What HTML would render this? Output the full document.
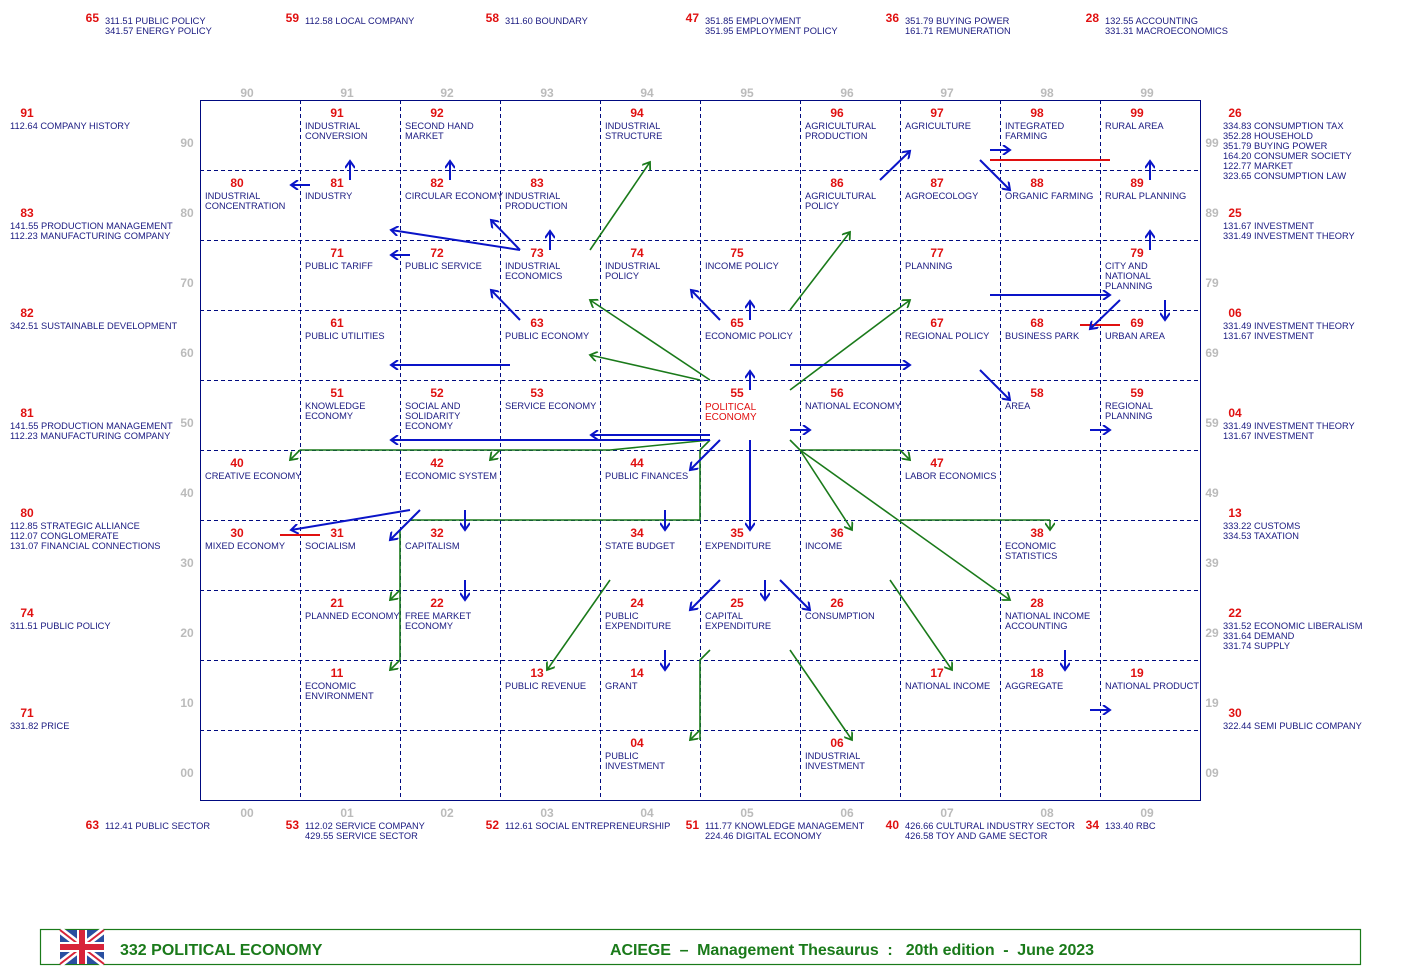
<!DOCTYPE html>
<html><head><meta charset="utf-8"><style>
html,body{margin:0;padding:0;background:#fff}
svg{display:block;font-family:"Liberation Sans",Arial,sans-serif}
.n{fill:#e01010;font-size:12px;font-weight:bold;text-anchor:middle}
.t{fill:#1a1a80;font-size:9.3px}
.a{fill:#bbb;font-size:12px;font-weight:bold;text-anchor:middle}
.on{fill:#e01010;font-size:12px;font-weight:bold;text-anchor:end}
.b{stroke:#0a14c8;stroke-width:2;fill:none}
.g{stroke:#1a7a1a;stroke-width:1.6;fill:none}
.r{stroke:#e01010;stroke-width:2}
</style></head><body>
<svg width="1410" height="980" viewBox="0 0 1410 980">
<defs>
<marker id="mb" markerWidth="10" markerHeight="10" refX="8" refY="5" orient="auto" markerUnits="userSpaceOnUse"><path d="M1,0 L8,5 L1,10" fill="none" stroke="#0a14c8" stroke-width="2"/></marker>
<marker id="mg" markerWidth="10" markerHeight="10" refX="8" refY="5" orient="auto" markerUnits="userSpaceOnUse"><path d="M1,0 L8,5 L1,10" fill="none" stroke="#1a7a1a" stroke-width="1.8"/></marker>
</defs>
<!-- grid -->
<g stroke="#000a80" stroke-width="1" stroke-dasharray="4,3">
<line x1="300.5" y1="100" x2="300.5" y2="800"/><line x1="400.5" y1="100" x2="400.5" y2="800"/><line x1="500.5" y1="100" x2="500.5" y2="800"/><line x1="600.5" y1="100" x2="600.5" y2="800"/><line x1="700.5" y1="100" x2="700.5" y2="800"/><line x1="800.5" y1="100" x2="800.5" y2="800"/><line x1="900.5" y1="100" x2="900.5" y2="800"/><line x1="1000.5" y1="100" x2="1000.5" y2="800"/><line x1="1100.5" y1="100" x2="1100.5" y2="800"/>
<line x1="200" y1="170.5" x2="1200" y2="170.5"/><line x1="200" y1="240.5" x2="1200" y2="240.5"/><line x1="200" y1="310.5" x2="1200" y2="310.5"/><line x1="200" y1="380.5" x2="1200" y2="380.5"/><line x1="200" y1="450.5" x2="1200" y2="450.5"/><line x1="200" y1="520.5" x2="1200" y2="520.5"/><line x1="200" y1="590.5" x2="1200" y2="590.5"/><line x1="200" y1="660.5" x2="1200" y2="660.5"/><line x1="200" y1="730.5" x2="1200" y2="730.5"/>
</g>
<rect x="200.5" y="100.5" width="1000" height="700" fill="none" stroke="#000a80" stroke-width="1"/>
<!-- axis labels -->
<g class="a">
<text x="247" y="97">90</text><text x="347" y="97">91</text><text x="447" y="97">92</text><text x="547" y="97">93</text><text x="647" y="97">94</text><text x="747" y="97">95</text><text x="847" y="97">96</text><text x="947" y="97">97</text><text x="1047" y="97">98</text><text x="1147" y="97">99</text>
<text x="247" y="817">00</text><text x="347" y="817">01</text><text x="447" y="817">02</text><text x="547" y="817">03</text><text x="647" y="817">04</text><text x="747" y="817">05</text><text x="847" y="817">06</text><text x="947" y="817">07</text><text x="1047" y="817">08</text><text x="1147" y="817">09</text>
<text x="187" y="147">90</text><text x="187" y="217">80</text><text x="187" y="287">70</text><text x="187" y="357">60</text><text x="187" y="427">50</text><text x="187" y="497">40</text><text x="187" y="567">30</text><text x="187" y="637">20</text><text x="187" y="707">10</text><text x="187" y="777">00</text>
<text x="1212" y="147">99</text><text x="1212" y="217">89</text><text x="1212" y="287">79</text><text x="1212" y="357">69</text><text x="1212" y="427">59</text><text x="1212" y="497">49</text><text x="1212" y="567">39</text><text x="1212" y="637">29</text><text x="1212" y="707">19</text><text x="1212" y="777">09</text>
</g>
<!-- top outside -->
<text class="on" x="99" y="22">65</text><text class="t" x="105" y="24">311.51 PUBLIC POLICY</text><text class="t" x="105" y="34">341.57 ENERGY POLICY</text>
<text class="on" x="299" y="22">59</text><text class="t" x="305" y="24">112.58 LOCAL COMPANY</text>
<text class="on" x="499" y="22">58</text><text class="t" x="505" y="24">311.60 BOUNDARY</text>
<text class="on" x="699" y="22">47</text><text class="t" x="705" y="24">351.85 EMPLOYMENT</text><text class="t" x="705" y="34">351.95 EMPLOYMENT POLICY</text>
<text class="on" x="899" y="22">36</text><text class="t" x="905" y="24">351.79 BUYING POWER</text><text class="t" x="905" y="34">161.71 REMUNERATION</text>
<text class="on" x="1099" y="22">28</text><text class="t" x="1105" y="24">132.55 ACCOUNTING</text><text class="t" x="1105" y="34">331.31 MACROECONOMICS</text>
<!-- bottom outside -->
<text class="on" x="99" y="829">63</text><text class="t" x="105" y="829">112.41 PUBLIC SECTOR</text>
<text class="on" x="299" y="829">53</text><text class="t" x="305" y="829">112.02 SERVICE COMPANY</text><text class="t" x="305" y="839">429.55 SERVICE SECTOR</text>
<text class="on" x="499" y="829">52</text><text class="t" x="505" y="829">112.61 SOCIAL ENTREPRENEURSHIP</text>
<text class="on" x="699" y="829">51</text><text class="t" x="705" y="829">111.77 KNOWLEDGE MANAGEMENT</text><text class="t" x="705" y="839">224.46 DIGITAL ECONOMY</text>
<text class="on" x="899" y="829">40</text><text class="t" x="905" y="829">426.66 CULTURAL INDUSTRY SECTOR</text><text class="t" x="905" y="839">426.58 TOY AND GAME SECTOR</text>
<text class="on" x="1099" y="829">34</text><text class="t" x="1105" y="829">133.40 RBC</text>
<!-- left outside -->
<g>
<text class="n" x="27" y="117">91</text><text class="t" x="10" y="129">112.64 COMPANY HISTORY</text>
<text class="n" x="27" y="217">83</text><text class="t" x="10" y="229">141.55 PRODUCTION MANAGEMENT</text><text class="t" x="10" y="239">112.23 MANUFACTURING COMPANY</text>
<text class="n" x="27" y="317">82</text><text class="t" x="10" y="329">342.51 SUSTAINABLE DEVELOPMENT</text>
<text class="n" x="27" y="417">81</text><text class="t" x="10" y="429">141.55 PRODUCTION MANAGEMENT</text><text class="t" x="10" y="439">112.23 MANUFACTURING COMPANY</text>
<text class="n" x="27" y="517">80</text><text class="t" x="10" y="529">112.85 STRATEGIC ALLIANCE</text><text class="t" x="10" y="539">112.07 CONGLOMERATE</text><text class="t" x="10" y="549">131.07 FINANCIAL CONNECTIONS</text>
<text class="n" x="27" y="617">74</text><text class="t" x="10" y="629">311.51 PUBLIC POLICY</text>
<text class="n" x="27" y="717">71</text><text class="t" x="10" y="729">331.82 PRICE</text>
</g>
<!-- right outside -->
<g>
<text class="n" x="1235" y="117">26</text><text class="t" x="1223" y="129">334.83 CONSUMPTION  TAX</text><text class="t" x="1223" y="139">352.28 HOUSEHOLD</text><text class="t" x="1223" y="149">351.79 BUYING POWER</text><text class="t" x="1223" y="159">164.20 CONSUMER SOCIETY</text><text class="t" x="1223" y="169">122.77 MARKET</text><text class="t" x="1223" y="179">323.65 CONSUMPTION LAW</text>
<text class="n" x="1235" y="217">25</text><text class="t" x="1223" y="229">131.67 INVESTMENT</text><text class="t" x="1223" y="239">331.49 INVESTMENT THEORY</text>
<text class="n" x="1235" y="317">06</text><text class="t" x="1223" y="329">331.49 INVESTMENT THEORY</text><text class="t" x="1223" y="339">131.67 INVESTMENT</text>
<text class="n" x="1235" y="417">04</text><text class="t" x="1223" y="429">331.49 INVESTMENT THEORY</text><text class="t" x="1223" y="439">131.67 INVESTMENT</text>
<text class="n" x="1235" y="517">13</text><text class="t" x="1223" y="529">333.22 CUSTOMS</text><text class="t" x="1223" y="539">334.53 TAXATION</text>
<text class="n" x="1235" y="617">22</text><text class="t" x="1223" y="629">331.52 ECONOMIC LIBERALISM</text><text class="t" x="1223" y="639">331.64 DEMAND</text><text class="t" x="1223" y="649">331.74 SUPPLY</text>
<text class="n" x="1235" y="717">30</text><text class="t" x="1223" y="729">322.44 SEMI PUBLIC COMPANY</text>
</g>
<!-- cells -->
<g>
<text class="n" x="337" y="117">91</text><text class="t" x="305" y="129">INDUSTRIAL</text><text class="t" x="305" y="139">CONVERSION</text>
<text class="n" x="437" y="117">92</text><text class="t" x="405" y="129">SECOND HAND</text><text class="t" x="405" y="139">MARKET</text>
<text class="n" x="637" y="117">94</text><text class="t" x="605" y="129">INDUSTRIAL</text><text class="t" x="605" y="139">STRUCTURE</text>
<text class="n" x="837" y="117">96</text><text class="t" x="805" y="129">AGRICULTURAL</text><text class="t" x="805" y="139">PRODUCTION</text>
<text class="n" x="937" y="117">97</text><text class="t" x="905" y="129">AGRICULTURE</text>
<text class="n" x="1037" y="117">98</text><text class="t" x="1005" y="129">INTEGRATED</text><text class="t" x="1005" y="139">FARMING</text>
<text class="n" x="1137" y="117">99</text><text class="t" x="1105" y="129">RURAL AREA</text>

<text class="n" x="237" y="187">80</text><text class="t" x="205" y="199">INDUSTRIAL</text><text class="t" x="205" y="209">CONCENTRATION</text>
<text class="n" x="337" y="187">81</text><text class="t" x="305" y="199">INDUSTRY</text>
<text class="n" x="437" y="187">82</text><text class="t" x="405" y="199">CIRCULAR ECONOMY</text>
<text class="n" x="537" y="187">83</text><text class="t" x="505" y="199">INDUSTRIAL</text><text class="t" x="505" y="209">PRODUCTION</text>
<text class="n" x="837" y="187">86</text><text class="t" x="805" y="199">AGRICULTURAL</text><text class="t" x="805" y="209">POLICY</text>
<text class="n" x="937" y="187">87</text><text class="t" x="905" y="199">AGROECOLOGY</text>
<text class="n" x="1037" y="187">88</text><text class="t" x="1005" y="199">ORGANIC FARMING</text>
<text class="n" x="1137" y="187">89</text><text class="t" x="1105" y="199">RURAL PLANNING</text>

<text class="n" x="337" y="257">71</text><text class="t" x="305" y="269">PUBLIC TARIFF</text>
<text class="n" x="437" y="257">72</text><text class="t" x="405" y="269">PUBLIC SERVICE</text>
<text class="n" x="537" y="257">73</text><text class="t" x="505" y="269">INDUSTRIAL</text><text class="t" x="505" y="279">ECONOMICS</text>
<text class="n" x="637" y="257">74</text><text class="t" x="605" y="269">INDUSTRIAL</text><text class="t" x="605" y="279">POLICY</text>
<text class="n" x="737" y="257">75</text><text class="t" x="705" y="269">INCOME POLICY</text>
<text class="n" x="937" y="257">77</text><text class="t" x="905" y="269">PLANNING</text>
<text class="n" x="1137" y="257">79</text><text class="t" x="1105" y="269">CITY AND</text><text class="t" x="1105" y="279">NATIONAL</text><text class="t" x="1105" y="289">PLANNING</text>

<text class="n" x="337" y="327">61</text><text class="t" x="305" y="339">PUBLIC UTILITIES</text>
<text class="n" x="537" y="327">63</text><text class="t" x="505" y="339">PUBLIC ECONOMY</text>
<text class="n" x="737" y="327">65</text><text class="t" x="705" y="339">ECONOMIC POLICY</text>
<text class="n" x="937" y="327">67</text><text class="t" x="905" y="339">REGIONAL POLICY</text>
<text class="n" x="1037" y="327">68</text><text class="t" x="1005" y="339">BUSINESS PARK</text>
<text class="n" x="1137" y="327">69</text><text class="t" x="1105" y="339">URBAN AREA</text>

<text class="n" x="337" y="397">51</text><text class="t" x="305" y="409">KNOWLEDGE</text><text class="t" x="305" y="419">ECONOMY</text>
<text class="n" x="437" y="397">52</text><text class="t" x="405" y="409">SOCIAL AND</text><text class="t" x="405" y="419">SOLIDARITY</text><text class="t" x="405" y="429">ECONOMY</text>
<text class="n" x="537" y="397">53</text><text class="t" x="505" y="409">SERVICE ECONOMY</text>
<text class="n" x="737" y="397">55</text><text class="t" x="705" y="410" style="fill:#e01010;font-size:10px">POLITICAL</text><text class="t" x="705" y="420" style="fill:#e01010;font-size:10px">ECONOMY</text>
<text class="n" x="837" y="397">56</text><text class="t" x="805" y="409">NATIONAL ECONOMY</text>
<text class="n" x="1037" y="397">58</text><text class="t" x="1005" y="409">AREA</text>
<text class="n" x="1137" y="397">59</text><text class="t" x="1105" y="409">REGIONAL</text><text class="t" x="1105" y="419">PLANNING</text>

<text class="n" x="237" y="467">40</text><text class="t" x="205" y="479">CREATIVE ECONOMY</text>
<text class="n" x="437" y="467">42</text><text class="t" x="405" y="479">ECONOMIC SYSTEM</text>
<text class="n" x="637" y="467">44</text><text class="t" x="605" y="479">PUBLIC FINANCES</text>
<text class="n" x="937" y="467">47</text><text class="t" x="905" y="479">LABOR ECONOMICS</text>

<text class="n" x="237" y="537">30</text><text class="t" x="205" y="549">MIXED ECONOMY</text>
<text class="n" x="337" y="537">31</text><text class="t" x="305" y="549">SOCIALISM</text>
<text class="n" x="437" y="537">32</text><text class="t" x="405" y="549">CAPITALISM</text>
<text class="n" x="637" y="537">34</text><text class="t" x="605" y="549">STATE BUDGET</text>
<text class="n" x="737" y="537">35</text><text class="t" x="705" y="549">EXPENDITURE</text>
<text class="n" x="837" y="537">36</text><text class="t" x="805" y="549">INCOME</text>
<text class="n" x="1037" y="537">38</text><text class="t" x="1005" y="549">ECONOMIC</text><text class="t" x="1005" y="559">STATISTICS</text>

<text class="n" x="337" y="607">21</text><text class="t" x="305" y="619">PLANNED ECONOMY</text>
<text class="n" x="437" y="607">22</text><text class="t" x="405" y="619">FREE MARKET</text><text class="t" x="405" y="629">ECONOMY</text>
<text class="n" x="637" y="607">24</text><text class="t" x="605" y="619">PUBLIC</text><text class="t" x="605" y="629">EXPENDITURE</text>
<text class="n" x="737" y="607">25</text><text class="t" x="705" y="619">CAPITAL</text><text class="t" x="705" y="629">EXPENDITURE</text>
<text class="n" x="837" y="607">26</text><text class="t" x="805" y="619">CONSUMPTION</text>
<text class="n" x="1037" y="607">28</text><text class="t" x="1005" y="619">NATIONAL INCOME</text><text class="t" x="1005" y="629">ACCOUNTING</text>

<text class="n" x="337" y="677">11</text><text class="t" x="305" y="689">ECONOMIC</text><text class="t" x="305" y="699">ENVIRONMENT</text>
<text class="n" x="537" y="677">13</text><text class="t" x="505" y="689">PUBLIC REVENUE</text>
<text class="n" x="637" y="677">14</text><text class="t" x="605" y="689">GRANT</text>
<text class="n" x="937" y="677">17</text><text class="t" x="905" y="689">NATIONAL INCOME</text>
<text class="n" x="1037" y="677">18</text><text class="t" x="1005" y="689">AGGREGATE</text>
<text class="n" x="1137" y="677">19</text><text class="t" x="1105" y="689">NATIONAL PRODUCT</text>

<text class="n" x="637" y="747">04</text><text class="t" x="605" y="759">PUBLIC</text><text class="t" x="605" y="769">INVESTMENT</text>
<text class="n" x="837" y="747">06</text><text class="t" x="805" y="759">INDUSTRIAL</text><text class="t" x="805" y="769">INVESTMENT</text>
</g>
<!-- green connectors -->
<g class="g">
<line x1="590" y1="250" x2="650" y2="162" marker-end="url(#mg)"/>
<line x1="790" y1="310" x2="850" y2="232" marker-end="url(#mg)"/>
<line x1="710" y1="380" x2="590" y2="300" marker-end="url(#mg)"/>
<line x1="700" y1="380" x2="590" y2="355" marker-end="url(#mg)"/>
<line x1="790" y1="390" x2="910" y2="300" marker-end="url(#mg)"/>
<polyline points="710,440 610,450 300,450"/>
<line x1="300" y1="450" x2="290" y2="460" marker-end="url(#mg)"/>
<line x1="500" y1="450" x2="490" y2="460" marker-end="url(#mg)"/>
<line x1="710" y1="440" x2="700" y2="450"/>
<polyline points="700,450 700,520 410,520 400,530 400,660"/>
<line x1="400" y1="590" x2="390" y2="600" marker-end="url(#mg)"/>
<line x1="400" y1="660" x2="390" y2="670" marker-end="url(#mg)"/>
<polyline points="710,650 700,660 700,740"/>
<line x1="700" y1="730" x2="690" y2="740" marker-end="url(#mg)"/>
<line x1="800" y1="450" x2="900" y2="450"/>
<line x1="900" y1="450" x2="910" y2="460" marker-end="url(#mg)"/>
<line x1="790" y1="440" x2="800" y2="450"/>
<line x1="800" y1="450" x2="852" y2="530" marker-end="url(#mg)"/>
<line x1="800" y1="450" x2="1010" y2="600" marker-end="url(#mg)"/>
<line x1="900" y1="520" x2="1050" y2="520"/>
<line x1="1050" y1="520" x2="1050" y2="530" marker-end="url(#mg)"/>
<line x1="610" y1="580" x2="547" y2="670" marker-end="url(#mg)"/>
<line x1="890" y1="580" x2="952" y2="670" marker-end="url(#mg)"/>
<line x1="790" y1="650" x2="852" y2="740" marker-end="url(#mg)"/>
</g>
<!-- red bars -->
<line class="r" x1="990" y1="160" x2="1110" y2="160"/>
<line class="r" x1="280" y1="535" x2="320" y2="535"/>
<line class="r" x1="1080" y1="325" x2="1120" y2="325"/>
<!-- blue arrows -->
<g class="b">
<line x1="350" y1="180" x2="350" y2="161" marker-end="url(#mb)"/>
<line x1="450" y1="180" x2="450" y2="161" marker-end="url(#mb)"/>
<line x1="310" y1="185" x2="291" y2="185" marker-end="url(#mb)"/>
<line x1="520" y1="250" x2="391" y2="230" marker-end="url(#mb)"/>
<line x1="520" y1="250" x2="491" y2="220" marker-end="url(#mb)"/>
<line x1="550" y1="250" x2="550" y2="231" marker-end="url(#mb)"/>
<line x1="410" y1="255" x2="391" y2="255" marker-end="url(#mb)"/>
<line x1="520" y1="320" x2="491" y2="290" marker-end="url(#mb)"/>
<line x1="720" y1="320" x2="691" y2="290" marker-end="url(#mb)"/>
<line x1="750" y1="320" x2="750" y2="301" marker-end="url(#mb)"/>
<line x1="510" y1="365" x2="391" y2="365" marker-end="url(#mb)"/>
<line x1="790" y1="365" x2="910" y2="365" marker-end="url(#mb)"/>
<line x1="750" y1="390" x2="750" y2="371" marker-end="url(#mb)"/>
<line x1="990" y1="295" x2="1110" y2="295" marker-end="url(#mb)"/>
<line x1="880" y1="180" x2="910" y2="151" marker-end="url(#mb)"/>
<line x1="990" y1="150" x2="1010" y2="150" marker-end="url(#mb)"/>
<line x1="980" y1="160" x2="1010" y2="190" marker-end="url(#mb)"/>
<line x1="1150" y1="180" x2="1150" y2="161" marker-end="url(#mb)"/>
<line x1="1150" y1="250" x2="1150" y2="231" marker-end="url(#mb)"/>
<line x1="1120" y1="300" x2="1090" y2="329" marker-end="url(#mb)"/>
<line x1="1165" y1="300" x2="1165" y2="320" marker-end="url(#mb)"/>
<line x1="980" y1="370" x2="1010" y2="400" marker-end="url(#mb)"/>
<line x1="1090" y1="430" x2="1110" y2="430" marker-end="url(#mb)"/>
<line x1="710" y1="435" x2="591" y2="435" marker-end="url(#mb)"/>
<line x1="710" y1="440" x2="391" y2="440" marker-end="url(#mb)"/>
<line x1="720" y1="440" x2="690" y2="470" marker-end="url(#mb)"/>
<line x1="750" y1="440" x2="750" y2="530" marker-end="url(#mb)"/>
<line x1="790" y1="430" x2="810" y2="430" marker-end="url(#mb)"/>
<line x1="465" y1="510" x2="465" y2="530" marker-end="url(#mb)"/>
<line x1="665" y1="510" x2="665" y2="530" marker-end="url(#mb)"/>
<line x1="410" y1="510" x2="291" y2="530" marker-end="url(#mb)"/>
<line x1="420" y1="510" x2="390" y2="540" marker-end="url(#mb)"/>
<line x1="465" y1="580" x2="465" y2="600" marker-end="url(#mb)"/>
<line x1="720" y1="580" x2="690" y2="610" marker-end="url(#mb)"/>
<line x1="765" y1="580" x2="765" y2="600" marker-end="url(#mb)"/>
<line x1="780" y1="580" x2="810" y2="610" marker-end="url(#mb)"/>
<line x1="665" y1="650" x2="665" y2="670" marker-end="url(#mb)"/>
<line x1="1065" y1="650" x2="1065" y2="670" marker-end="url(#mb)"/>
<line x1="1090" y1="710" x2="1110" y2="710" marker-end="url(#mb)"/>
</g>
<!-- footer -->
<rect x="40.5" y="929.5" width="1320" height="35" fill="none" stroke="#1a7a1a" stroke-width="1.2"/>
<g>
<rect x="60" y="930" width="44" height="34" fill="#2a4fa0"/>
<path d="M60,930 L104,964 M104,930 L60,964" stroke="#fff" stroke-width="7"/>
<path d="M60,930 L104,964 M104,930 L60,964" stroke="#d8243a" stroke-width="2"/>
<rect x="77" y="930" width="10" height="34" fill="#fff"/>
<rect x="60" y="942" width="44" height="10" fill="#fff"/>
<rect x="79" y="930" width="6" height="34" fill="#d8243a"/>
<rect x="60" y="944" width="44" height="6" fill="#d8243a"/>
</g>
<text x="120" y="955" style="fill:#1a7a1a;font-size:16px;font-weight:bold">332  POLITICAL ECONOMY</text>
<text x="610" y="955" style="fill:#1a7a1a;font-size:16px;font-weight:bold;white-space:pre" xml:space="preserve" textLength="484">ACIEGE  –  Management Thesaurus  :   20th edition  -  June 2023</text>
</svg>
</body></html>
